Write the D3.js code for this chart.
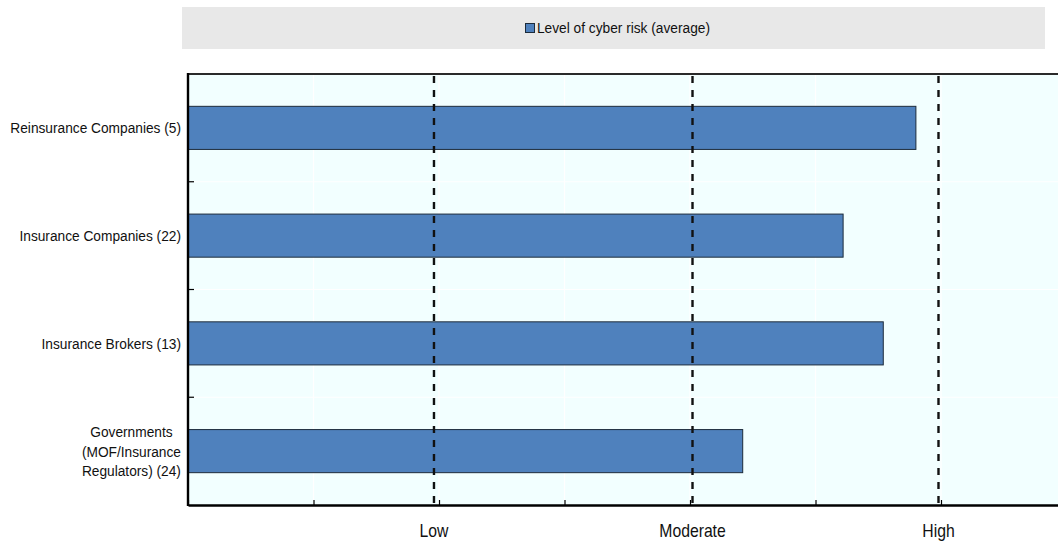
<!DOCTYPE html>
<html>
<head>
<meta charset="utf-8">
<script src="https://cdn.jsdelivr.net/npm/d3@7"></script>
<style>
  html, body { margin: 0; padding: 0; background: #ffffff; }
  svg { display: block; font-family: "Liberation Sans", Arial, sans-serif; }
</style>
</head>
<body>
<svg id="chart" width="1058" height="541"></svg>
<script>
// Survey respondents by group (number of respondents in brackets)
const categories = [
  "Reinsurance Companies (5)",
  "Insurance Companies (22)",
  "Insurance Brokers (13)",
  "Governments\n(MOF/Insurance\nRegulators) (24)"
];
// Average perceived level of cyber risk
const seriesName = "Level of cyber risk (average)";
const riskValues = [2.90, 2.61, 2.77, 2.21];
// Qualitative reference levels along the value axis
const levelLabels = ["Low", "Moderate", "High"];
const levelValues = [0.98, 2.01, 2.99];

const svg = d3.select("#chart");
const plot = { left: 188, top: 74, bottom: 505, right: 1066.5 };

const barFill = "#4f81bd";
const barStroke = "#1c2b3b";
const condense = 0.915; // horizontal squeeze for a narrow-looking face

const x = d3.scaleLinear().domain([0, 3.5]).range([plot.left, plot.right]);
const y = d3.scaleBand().domain(categories)
  .range([plot.top, plot.bottom])
  .paddingInner(0.6).paddingOuter(0.3);

const xTicks = x.ticks(7);
const boundaries = categories.slice(1).map(c => y(c) - y.step() * y.paddingInner() / 2);

// Legend strip
svg.append("rect")
  .attr("x", 182).attr("y", 7).attr("width", 863).attr("height", 42)
  .attr("fill", "#e8e8e8");
const legend = svg.append("g");
legend.append("rect")
  .attr("x", 525.5).attr("y", 23.5).attr("width", 9).attr("height", 9)
  .attr("fill", barFill).attr("stroke", barStroke).attr("stroke-width", 1);
legend.append("g").attr("transform", `translate(537,33) scale(${condense},1)`)
  .append("text")
  .attr("font-size", "15px").attr("fill", "#111")
  .text(seriesName);

// Plot background
svg.append("rect")
  .attr("x", plot.left).attr("y", plot.top)
  .attr("width", plot.right - plot.left).attr("height", plot.bottom - plot.top)
  .attr("fill", "#f2ffff");

// White gridlines
svg.append("g").selectAll("line").data(xTicks.filter(d => d > 0)).join("line")
  .attr("x1", d => x(d)).attr("x2", d => x(d))
  .attr("y1", plot.top).attr("y2", plot.bottom)
  .attr("stroke", "#ffffff").attr("stroke-width", 1.2);
svg.append("g").selectAll("line").data(boundaries).join("line")
  .attr("x1", plot.left).attr("x2", plot.right)
  .attr("y1", d => d).attr("y2", d => d)
  .attr("stroke", "#ffffff").attr("stroke-width", 1.2);

// Bars
svg.append("g").selectAll("rect").data(categories).join("rect")
  .attr("x", x(0))
  .attr("y", c => y(c))
  .attr("width", (c, i) => x(riskValues[i]) - x(0))
  .attr("height", y.bandwidth())
  .attr("fill", barFill)
  .attr("stroke", barStroke).attr("stroke-width", 1);

// Dashed reference lines for Low / Moderate / High
svg.append("g").selectAll("line").data(levelValues).join("line")
  .attr("x1", d => x(d)).attr("x2", d => x(d))
  .attr("y1", plot.top + 2).attr("y2", plot.bottom + 5)
  .attr("stroke", "#111").attr("stroke-width", 2.4)
  .attr("stroke-dasharray", "7,7");

// Top frame line
svg.append("line")
  .attr("x1", plot.left).attr("x2", plot.right)
  .attr("y1", plot.top).attr("y2", plot.top)
  .attr("stroke", "#2a2a2a").attr("stroke-width", 2);

// Bottom axis: ticks pointing into the plot, no labels
const xAxis = d3.axisBottom(x).tickValues(xTicks).tickSize(-5).tickSizeOuter(0).tickFormat("");
const gx = svg.append("g").attr("transform", `translate(0,${plot.bottom})`).call(xAxis);
gx.select(".domain").attr("stroke", "#000").attr("stroke-width", 2.4);
gx.selectAll(".tick line").attr("stroke", "#000").attr("stroke-width", 1.2);

// Left axis line with ticks at category boundaries
svg.append("line")
  .attr("x1", plot.left).attr("x2", plot.left)
  .attr("y1", plot.top - 1).attr("y2", plot.bottom + 1)
  .attr("stroke", "#000").attr("stroke-width", 2.4);
svg.append("g").selectAll("line").data(boundaries).join("line")
  .attr("x1", plot.left).attr("x2", plot.left + 6)
  .attr("y1", d => d).attr("y2", d => d)
  .attr("stroke", "#000").attr("stroke-width", 1.2);

// Level labels below the axis
svg.append("g").selectAll("g").data(levelLabels).join("g")
  .attr("transform", (d, i) => `translate(${x(levelValues[i])},537) scale(0.9,1)`)
  .append("text")
  .attr("text-anchor", "middle")
  .attr("font-size", "17.5px").attr("fill", "#111")
  .text(d => d);

// Category labels, right-aligned block; multi-line labels centred within their block
const labelRight = 181;
const lineH = 19.5;
const gy = svg.append("g");
categories.forEach(c => {
  const lines = c.split("\n");
  const cy = y(c) + y.bandwidth() / 2;
  const holder = gy.append("g");
  const t = holder.append("text")
    .attr("font-size", "15px").attr("fill", "#111");
  lines.forEach((ln, j) => {
    t.append("tspan")
      .attr("x", 0)
      .attr("y", cy + (j - (lines.length - 1) / 2) * lineH)
      .attr("dy", "0.36em")
      .text(ln);
  });
  if (lines.length === 1) {
    t.attr("text-anchor", "end");
    holder.attr("transform", `translate(${labelRight},0) scale(${condense},1)`);
  } else {
    const widths = [];
    t.selectAll("tspan").each(function () { widths.push(this.getComputedTextLength()); });
    const maxW = d3.max(widths) * condense;
    t.attr("text-anchor", "middle");
    holder.attr("transform", `translate(${labelRight - maxW / 2},0) scale(${condense},1)`);
  }
});
</script>
</body>
</html>
